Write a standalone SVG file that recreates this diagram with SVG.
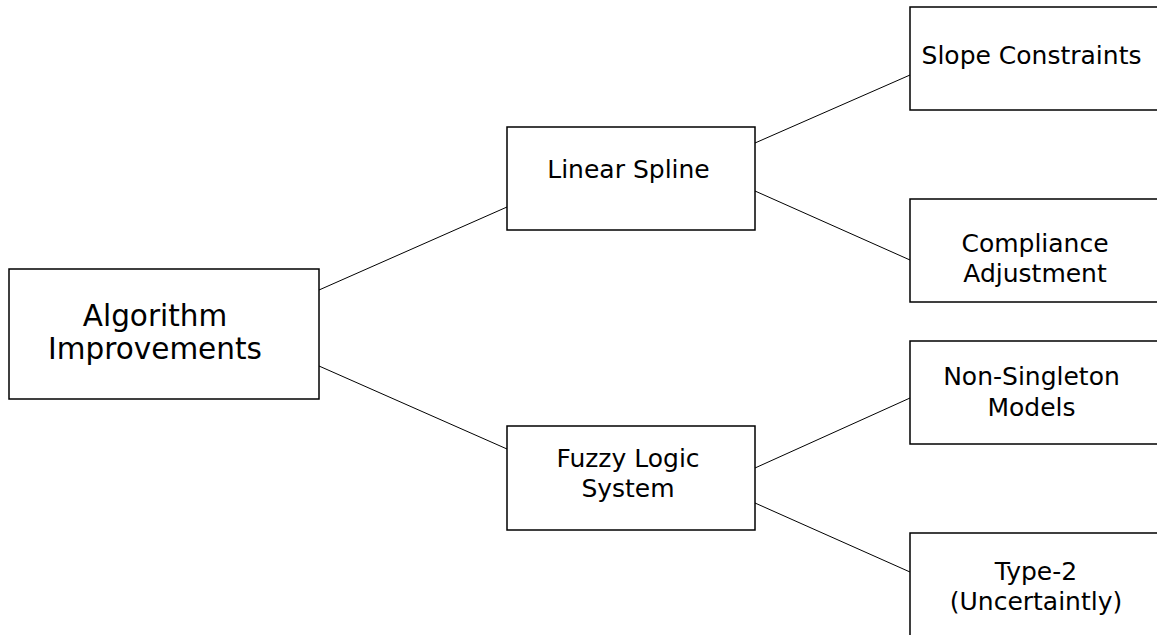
<svg xmlns="http://www.w3.org/2000/svg" width="1157" height="635" viewBox="0 0 1157 635">
  <style>
    .box { fill: #ffffff; stroke: #000000; stroke-width: 1.5; }
    .edge { stroke: #000000; stroke-width: 1; fill: none; }
    text { font-family: "DejaVu Sans", sans-serif; fill: #000000; text-anchor: middle; }
    .root { font-size: 29.5px; }
    .lbl { font-size: 25px; }
  </style>
  <rect width="1157" height="635" fill="#ffffff"/>

  <g id="connectors">
    <line class="edge" x1="319" y1="290" x2="507" y2="207"/>
    <line class="edge" x1="319" y1="366" x2="507" y2="449"/>
    <line class="edge" x1="755" y1="143" x2="910" y2="75"/>
    <line class="edge" x1="755" y1="191" x2="910" y2="260"/>
    <line class="edge" x1="755" y1="468" x2="910" y2="398"/>
    <line class="edge" x1="755" y1="503" x2="910" y2="572"/>
  </g>

  <g id="algorithm-improvements">
    <rect class="box" x="9" y="269" width="310" height="130"/>
    <text class="root" x="155" y="326">Algorithm</text>
    <text class="root" x="155" y="359">Improvements</text>
  </g>

  <g id="linear-spline">
    <rect class="box" x="507" y="127" width="248" height="103"/>
    <text class="lbl" x="628.5" y="178">Linear Spline</text>
  </g>

  <g id="fuzzy-logic-system">
    <rect class="box" x="507" y="426" width="248" height="104"/>
    <text class="lbl" x="628" y="467">Fuzzy Logic</text>
    <text class="lbl" x="628" y="497">System</text>
  </g>

  <g id="slope-constraints">
    <rect class="box" x="910" y="7" width="248" height="103"/>
    <text class="lbl" x="1031.5" y="64">Slope Constraints</text>
  </g>

  <g id="compliance-adjustment">
    <rect class="box" x="910" y="199" width="248" height="103"/>
    <text class="lbl" x="1035" y="252">Compliance</text>
    <text class="lbl" x="1035" y="282">Adjustment</text>
  </g>

  <g id="non-singleton-models">
    <rect class="box" x="910" y="341" width="248" height="103"/>
    <text class="lbl" x="1031.5" y="385">Non-Singleton</text>
    <text class="lbl" x="1031.5" y="416">Models</text>
  </g>

  <g id="type-2">
    <rect class="box" x="910" y="533" width="248" height="103"/>
    <text class="lbl" x="1036" y="580">Type-2</text>
    <text class="lbl" x="1036" y="610">(Uncertaintly)</text>
  </g>
</svg>
